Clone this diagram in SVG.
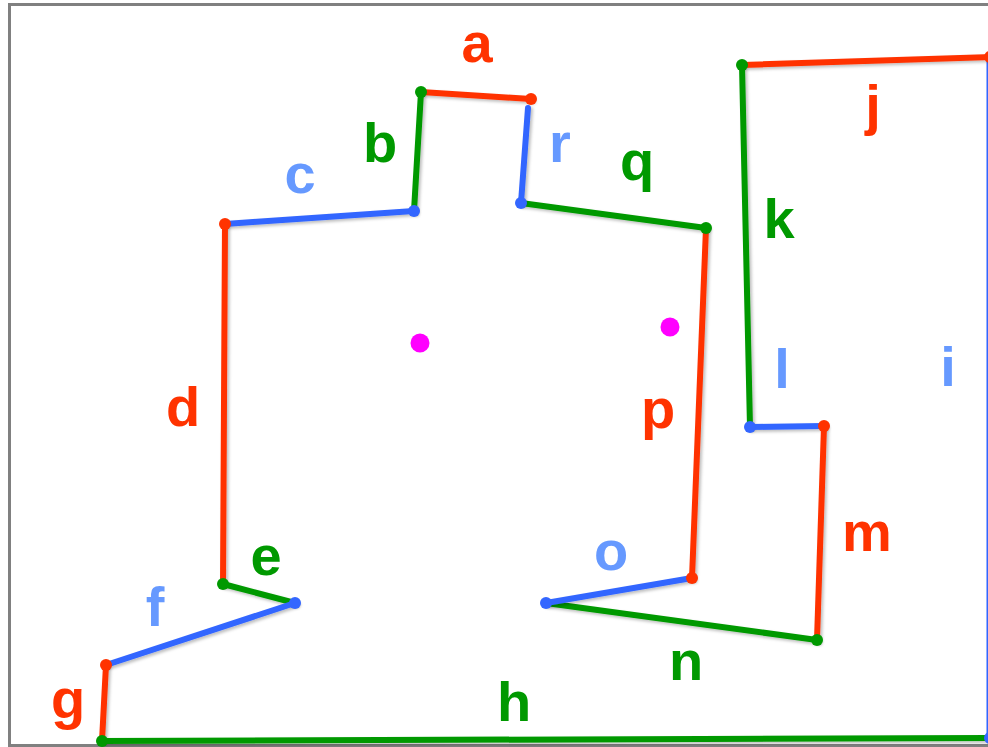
<svg xmlns="http://www.w3.org/2000/svg" width="988" height="747" viewBox="0 0 988 747">
<defs>
<filter id="sh" filterUnits="userSpaceOnUse" x="0" y="0" width="988" height="747">
<feDropShadow dx="2" dy="2" stdDeviation="1.5" flood-color="#000" flood-opacity="0.25"/>
</filter>
</defs>
<style>
.lbl{font-family:"Liberation Sans",Arial,sans-serif;font-weight:bold;font-size:56px;text-anchor:middle}
.tr{fill:#ff3300}.tg{fill:#009900}.tb{fill:#6699ff}
.seg{stroke-width:6;fill:none;stroke-linecap:round;filter:url(#sh)}
.r{stroke:#ff3300}.g{stroke:#009900}.b{stroke:#3366ff}
.dr{fill:#ff3300}.dg{fill:#009900}.db{fill:#3366ff}
.mag{fill:#ff00ff}
</style>
<rect x="0" y="0" width="988" height="747" fill="#ffffff"/>
<rect x="9.5" y="4.5" width="990" height="741" fill="none" stroke="#808080" stroke-width="3"/>
<g id="connectors">
<line class="seg r" x1="421" y1="92" x2="531" y2="99"/>
<line class="seg g" x1="421" y1="92" x2="414" y2="211"/>
<line class="seg b" x1="225" y1="224" x2="414" y2="211"/>
<line class="seg r" x1="225" y1="224" x2="223" y2="584"/>
<line class="seg g" x1="223" y1="584" x2="295" y2="603"/>
<line class="seg b" x1="295" y1="603" x2="106" y2="665"/>
<line class="seg r" x1="106" y1="665" x2="102" y2="741"/>
<line class="seg g" x1="102" y1="741" x2="989" y2="738"/>
<line class="seg b" x1="989.5" y1="57" x2="989.5" y2="738"/>
<line class="seg r" x1="742" y1="65" x2="992" y2="57"/>
<line class="seg g" x1="742" y1="65" x2="750" y2="427"/>
<line class="seg b" x1="750" y1="427" x2="824" y2="426"/>
<line class="seg r" x1="824" y1="426" x2="817" y2="640"/>
<line class="seg g" x1="817" y1="640" x2="546" y2="603"/>
<line class="seg b" x1="546" y1="603" x2="692" y2="578"/>
<line class="seg r" x1="692" y1="578" x2="706" y2="228"/>
<line class="seg g" x1="706" y1="228" x2="521" y2="203"/>
<line class="seg b" x1="521" y1="203" x2="528" y2="108"/>
</g>
<g id="points">
<circle class="dg" cx="421" cy="92" r="6"/>
<circle class="dr" cx="531" cy="99" r="6"/>
<circle class="db" cx="414" cy="211" r="6"/>
<circle class="dr" cx="225" cy="224" r="6"/>
<circle class="dg" cx="223" cy="584" r="6"/>
<circle class="db" cx="295" cy="603" r="6"/>
<circle class="dr" cx="106" cy="665" r="6"/>
<circle class="dg" cx="102" cy="741" r="6"/>
<circle class="db" cx="990" cy="738" r="6"/>
<circle class="dr" cx="990" cy="57" r="6"/>
<circle class="dg" cx="742" cy="65" r="6"/>
<circle class="db" cx="750" cy="427" r="6"/>
<circle class="dr" cx="824" cy="426" r="6"/>
<circle class="dg" cx="817" cy="640" r="6"/>
<circle class="db" cx="546" cy="603" r="6"/>
<circle class="dr" cx="692" cy="578" r="6"/>
<circle class="dg" cx="706" cy="228" r="6"/>
<circle class="db" cx="521" cy="203" r="6"/>
<circle class="mag" cx="420" cy="343" r="9.5"/>
<circle class="mag" cx="670" cy="327" r="9.5"/>
</g>
<g id="labels">
<text class="lbl tr" x="477" y="62">a</text>
<text class="lbl tg" x="380" y="162">b</text>
<text class="lbl tb" x="300" y="193">c</text>
<text class="lbl tb" x="560" y="162">r</text>
<text class="lbl tg" x="637" y="180">q</text>
<text class="lbl tr" x="873" y="124">j</text>
<text class="lbl tg" x="779" y="238">k</text>
<text class="lbl tb" x="782" y="388">l</text>
<text class="lbl tb" x="948" y="386">i</text>
<text class="lbl tr" x="183" y="426">d</text>
<text class="lbl tr" x="658" y="428">p</text>
<text class="lbl tr" x="867" y="551">m</text>
<text class="lbl tg" x="266" y="575">e</text>
<text class="lbl tb" x="611" y="570">o</text>
<text class="lbl tb" x="155" y="626">f</text>
<text class="lbl tg" x="686" y="680">n</text>
<text class="lbl tr" x="68" y="718">g</text>
<text class="lbl tg" x="514" y="721">h</text>
</g>
</svg>
